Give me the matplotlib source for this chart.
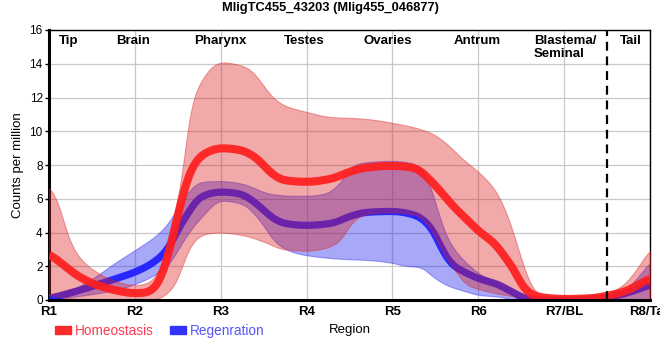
import numpy as np
import matplotlib
matplotlib.use("Agg")
import matplotlib.pyplot as plt
from matplotlib.patches import Patch

plt.rcParams['font.family'] = ['Liberation Sans', 'DejaVu Sans']

title = "MligTC455_43203 (Mlig455_046877)"
regions = ["R1", "R2", "R3", "R4", "R5", "R6", "R7/BL", "R8/Tail"]
region_names = ["Tip", "Brain", "Pharynx", "Testes", "Ovaries", "Antrum", "Blastema/\nSeminal", "Tail"]

# Homeostasis (red): mean line and band
homeo_x = [0.0, 0.2, 0.35, 0.55, 0.75, 1.0, 1.15, 1.27, 1.35, 1.43, 1.5, 1.6, 1.72, 1.88,
           2.0, 2.22, 2.42, 2.57, 2.73, 3.0, 3.3, 3.5, 3.7, 4.0, 4.28, 4.4, 4.55, 4.7,
           4.86, 5.0, 5.2, 5.33, 5.42, 5.5, 5.64, 5.8, 6.0, 6.3, 6.5, 6.73, 6.88, 7.0]
homeo_y = [2.75, 1.95, 1.38, 0.9, 0.6, 0.4, 0.45, 0.95, 1.95, 3.5, 5.0, 7.0, 8.3, 8.85,
           9.0, 8.9, 8.4, 7.6, 7.1, 7.0, 7.2, 7.6, 7.85, 7.95, 7.8, 7.3, 6.5, 5.6,
           4.8, 4.1, 3.3, 2.4, 1.8, 0.9, 0.28, 0.12, 0.06, 0.1, 0.25, 0.55, 0.95, 1.3]

homeo_hi_x = [0.0, 0.13, 0.19, 0.34, 0.54, 0.73, 1.0, 1.15, 1.27, 1.39, 1.44, 1.5, 1.55,
              1.61, 1.68, 1.8, 1.91, 2.0, 2.3, 2.46, 2.57, 2.73, 3.0, 3.27, 3.66, 4.0,
              4.43, 4.6, 4.83, 5.0, 5.2, 5.37, 5.49, 5.57, 5.64, 5.79, 6.0, 6.5, 6.69,
              6.84, 7.0]
homeo_hi_y = [6.8, 5.5, 4.2, 2.6, 1.7, 1.2, 0.88, 1.0, 1.6, 3.5, 4.9, 5.9, 7.1,
              10.3, 12.0, 13.2, 13.9, 14.1, 13.8, 13.0, 12.2, 11.55, 11.15, 10.85, 10.75, 10.5,
              9.95, 9.4, 8.3, 7.6, 6.5, 4.6, 2.6, 1.4, 0.6, 0.2, 0.15, 0.4, 0.9,
              1.8, 3.05]

homeo_lo_x = [0.0, 0.35, 1.0, 1.27, 1.35, 1.47, 1.55, 1.62, 1.74, 1.85, 2.0, 2.25, 2.53,
              2.73, 3.0, 3.27, 3.43, 3.5, 3.61, 3.75, 4.0, 4.3, 4.47, 4.6, 4.75, 4.86,
              5.0, 5.25, 5.5, 5.75, 7.0]
homeo_lo_y = [0.3, 0.05, 0.0, 0.05, 0.3, 0.9, 1.97, 2.96, 3.75, 3.95, 4.0, 3.85, 3.4,
              3.0, 2.92, 3.15, 3.75, 4.44, 4.94, 5.15, 5.2, 5.0, 4.0, 2.7, 1.6, 0.9,
              0.65, 0.35, 0.15, 0.0, 0.0]

# Regenration (blue)
regen_x = [0.0, 0.34, 0.73, 1.0, 1.23, 1.39, 1.5, 1.62, 1.76, 2.0, 2.22, 2.42, 2.57, 2.73,
           3.0, 3.3, 3.5, 3.7, 4.0, 4.28, 4.47, 4.58, 4.7, 4.86, 5.0, 5.24, 5.4, 5.55,
           5.75, 6.0, 6.5, 6.75, 7.0]
regen_y = [0.08, 0.55, 1.18, 1.65, 2.27, 3.06, 4.15, 5.14, 6.1, 6.4, 6.3, 5.7, 5.0, 4.55,
           4.42, 4.55, 4.95, 5.2, 5.25, 5.0, 4.15, 2.96, 2.07, 1.6, 1.28, 0.9, 0.45, 0.1,
           0.0, 0.0, 0.15, 0.45, 0.9]

regen_hi_x = [0.0, 0.26, 0.54, 0.73, 1.0, 1.23, 1.39, 1.5, 1.62, 1.76, 2.0, 2.25, 2.45,
              2.56, 2.83, 3.0, 3.22, 3.4, 3.5, 3.6, 4.0, 4.3, 4.4, 4.47, 4.55, 4.63,
              4.75, 4.86, 5.0, 5.17, 5.36, 5.55, 5.75, 6.5, 6.73, 7.0]
regen_hi_y = [0.2, 0.6, 1.38, 2.07, 2.96, 3.75, 4.55, 5.5, 6.4, 7.0, 7.05, 6.9, 6.5,
              6.3, 6.18, 6.18, 6.3, 7.0, 7.8, 8.1, 8.25, 8.0, 7.3, 6.3, 4.9, 3.75,
              2.8, 2.2, 1.6, 1.09, 0.5, 0.1, 0.0, 0.2, 0.7, 2.27]

regen_lo_x = [0.0, 0.73, 1.0, 1.23, 1.39, 1.5, 1.62, 1.78, 2.0, 2.25, 2.45, 2.65, 2.83,
              3.0, 3.37, 3.77, 4.0, 4.18, 4.32, 4.47, 4.63, 4.86, 5.0, 5.24, 5.47, 7.0]
regen_lo_y = [0.0, 0.55, 0.95, 1.48, 2.07, 2.96, 3.95, 4.94, 5.9, 5.7, 4.75, 3.35, 2.85,
              2.65, 2.45, 2.35, 2.2, 2.0, 1.97, 1.38, 0.88, 0.5, 0.3, 0.2, 0.0, 0.0]


def pchip(x, y, xs):
    # monotone cubic so the curves come out smooth without overshoot
    x = np.asarray(x, float)
    y = np.asarray(y, float)
    h = np.diff(x)
    d = np.diff(y) / h
    m = np.zeros_like(y)
    for k in range(1, len(x) - 1):
        if d[k - 1] * d[k] > 0:
            w1 = 2 * h[k] + h[k - 1]
            w2 = h[k] + 2 * h[k - 1]
            m[k] = (w1 + w2) / (w1 / d[k - 1] + w2 / d[k])
    m[0] = d[0]
    m[-1] = d[-1]
    i = np.clip(np.searchsorted(x, xs) - 1, 0, len(h) - 1)
    t = (xs - x[i]) / h[i]
    h00 = 2 * t**3 - 3 * t**2 + 1
    h10 = t**3 - 2 * t**2 + t
    h01 = -2 * t**3 + 3 * t**2
    h11 = t**3 - t**2
    return h00 * y[i] + h10 * h[i] * m[i] + h01 * y[i + 1] + h11 * h[i] * m[i + 1]


xs = np.linspace(0, 7, 1401)


def curve(x, y, sigma=0.05):
    # interpolate, then soften the small kinks left by hand-read points
    v = pchip(x, y, xs)
    step = xs[1] - xs[0]
    n = int(3 * sigma / step)
    k = np.exp(-0.5 * (np.arange(-n, n + 1) * step / sigma) ** 2)
    k /= k.sum()
    vp = np.concatenate([np.full(n, v[0]), v, np.full(n, v[-1])])
    return np.convolve(vp, k, mode="valid")


fig = plt.figure(figsize=(6.6, 3.6), dpi=100)
ax = fig.add_axes([49 / 660, 1 - 300 / 360, 601 / 660, 270 / 360])

red = "#ff1e1e"
blue = "#2020ff"

ax.fill_between(xs, curve(regen_lo_x, regen_lo_y), curve(regen_hi_x, regen_hi_y),
                color=(0.12, 0.12, 0.94), alpha=0.39, lw=0.8, zorder=2)
ax.plot(xs, curve(regen_x, regen_y), color=blue, lw=5.2, alpha=0.95, zorder=3,
        solid_capstyle="butt")
ax.fill_between(xs, curve(homeo_lo_x, homeo_lo_y), curve(homeo_hi_x, homeo_hi_y),
                color=(0.86, 0.12, 0.12), alpha=0.38, lw=0.8, zorder=4)
ax.plot(xs, curve(homeo_x, homeo_y), color=red, lw=5.8, alpha=0.92, zorder=5,
        solid_capstyle="butt")

ax.axvline(6.5, color="black", lw=1.6, linestyle=(0, (4, 2.6)), zorder=6)

ax.set_xlim(0, 7)
ax.set_ylim(0, 16)
ax.set_xticks(range(len(regions)))
ax.set_xticklabels(regions, fontweight="bold", fontsize=9.5)
ax.set_yticks(range(0, 17, 2))
ax.tick_params(axis="y", labelsize=8.5, length=3, width=1, pad=1.5)
ax.tick_params(axis="x", length=0, pad=4)
ax.grid(True, color="#c8c8c8", lw=0.9, zorder=0)
ax.set_axisbelow(True)
for s in ["left", "bottom"]:
    ax.spines[s].set_linewidth(2.2)
for s in ["top", "right"]:
    ax.spines[s].set_linewidth(1.0)
ax.spines["bottom"].set_zorder(7)

ax.set_ylabel("Counts per million", fontsize=9.5, labelpad=4)
ax.set_xlabel("Region", fontsize=9.5, labelpad=5)

name_pos = [0.23, 0.98, 1.99, 2.97, 3.95, 4.99, 5.65, 6.78]
for name, px in zip(region_names, name_pos):
    ha = "left" if "/" in name else "center"
    ax.text(px, 15.7, name, ha=ha, va="top", fontweight="bold", fontsize=9.5,
            linespacing=1.05, zorder=8)

fig.text(0.5, 1 - 8 / 360, title, ha="center", va="center", fontweight="bold", fontsize=9.3)

handles = [Patch(color="#ff2a2a"), Patch(color="#3333ff")]
fig.legend(handles, ["Homeostasis", "Regenration"], loc="center left",
           bbox_to_anchor=(55 / 660, 1 - 331 / 360), ncol=2, frameon=False,
           fontsize=9.8, handlelength=1.15, handleheight=0.5, handletextpad=0.3,
           columnspacing=1.2, borderpad=0, borderaxespad=0,
           labelcolor=["#ff3c50", "#5555ff"])

fig.savefig("out.png", dpi=100)
